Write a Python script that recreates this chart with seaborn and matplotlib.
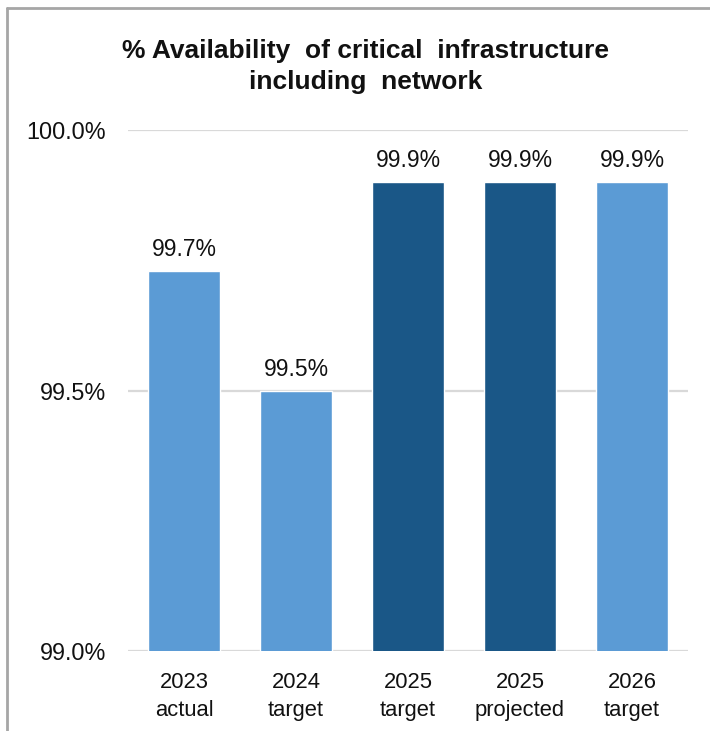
import matplotlib
matplotlib.use("Agg")
import matplotlib.pyplot as plt
from matplotlib.lines import Line2D
import seaborn as sns
import pandas as pd

categories = ["2023\nactual", "2024\ntarget", "2025\ntarget", "2025\nprojected", "2026\ntarget"]
values = [99.73, 99.5, 99.9, 99.9, 99.9]
bar_colors = ["#5B9BD5", "#5B9BD5", "#1A5787", "#1A5787", "#5B9BD5"]
y_ticks = [99.0, 99.5, 100.0]
title = "% Availability  of critical  infrastructure\nincluding  network"

sns.set_theme(style="white")
plt.rcParams["font.family"] = ["Liberation Sans", "DejaVu Sans"]

df = pd.DataFrame({"category": categories, "value": values})

fig = plt.figure(figsize=(7.10, 7.31), dpi=100)
ax = fig.add_axes([0.1803, 0.1094, 0.969 - 0.1803, 0.822 - 0.1094])

sns.barplot(data=df, x="category", y="value", hue="category",
            palette=bar_colors, legend=False, width=0.65, ax=ax,
            saturation=1)

ax.set_ylim(99.0, 100.0)
ax.set_yticks(y_ticks)
ax.set_yticklabels([f"{t:.1f}%" for t in y_ticks])
ax.set_xlim(-0.5, 4.5)
ax.set_xlabel("")
ax.set_ylabel("")

for t in y_ticks:
    ax.axhline(t, color="#D9D9D9", lw=1.6, zorder=0)

for s in ax.spines.values():
    s.set_visible(False)

ax.tick_params(axis="y", length=0, pad=16, labelsize=16.8, labelcolor="#111111")
ax.tick_params(axis="x", length=0, pad=15, labelsize=15.8, labelcolor="#111111")
for lbl in ax.get_xticklabels():
    lbl.set_linespacing(1.42)

for c in ax.containers:
    ax.bar_label(c, fmt="%.1f%%", padding=7, fontsize=16.5, color="#111111")

fig.text(0.515, 0.909, title, ha="center", va="center", fontsize=19,
         fontweight="bold", linespacing=1.35, color="#111111")

# outer frame (top and left edges)
fig.add_artist(Line2D([7 / 710, 1.0], [1 - 8 / 731, 1 - 8 / 731], color="#A6A6A6", lw=2,
                      transform=fig.transFigure))
fig.add_artist(Line2D([7 / 710, 7 / 710], [0.0, 1 - 8 / 731], color="#A6A6A6", lw=2,
                      transform=fig.transFigure))

fig.savefig("out.png", dpi=100)
